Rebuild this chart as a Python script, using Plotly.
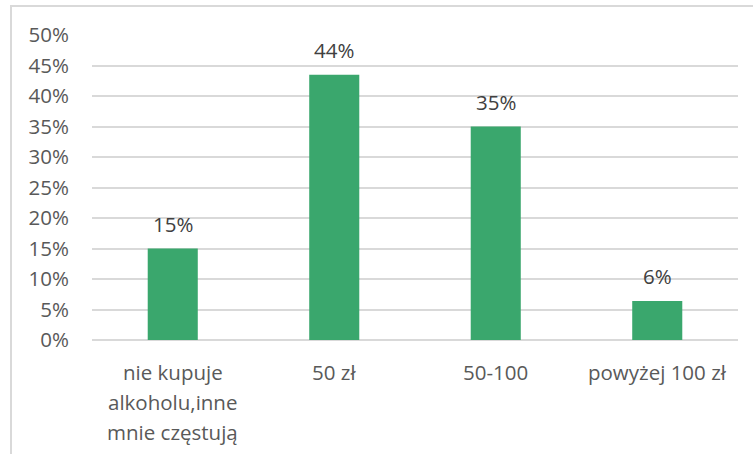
import plotly.graph_objects as go

categories = ["nie kupuje<br>alkoholu,inne<br>mnie częstują", "50 zł", "50-100", "powyżej 100 zł"]
values = [0.15, 0.435, 0.35, 0.064]
value_labels = ["15%", "44%", "35%", "6%"]
tick_vals = [0, 0.05, 0.10, 0.15, 0.20, 0.25, 0.30, 0.35, 0.40, 0.45, 0.50]
tick_text = ["0%", "5%", "10%", "15%", "20%", "25%", "30%", "35%", "40%", "45%", "50%"]

FONT = "Open Sans"
TXT = "#595959"
SIZE = 20.5

fig = go.Figure(go.Bar(
    x=categories, y=values,
    marker=dict(color="#3aa76d", line=dict(width=0)),
    hoverinfo="skip",
))

annotations = [
    dict(x=c, y=v, text=t, xref="x", yref="y", showarrow=False,
         yanchor="middle", yshift=25,
         font=dict(family=FONT, size=SIZE, color="#404040"))
    for c, v, t in zip(categories, values, value_labels)
]
# category labels, one annotation per line for Excel-like line spacing
for c in categories:
    for i, line in enumerate(c.split("<br>")):
        annotations.append(dict(x=c, y=0, text=line, xref="x", yref="y", showarrow=False,
                                yanchor="middle", yshift=-32 - 30 * i,
                                font=dict(family=FONT, size=SIZE, color=TXT)))

fig.update_layout(
    width=753, height=454,
    margin=dict(l=92, r=15, t=35, b=114),
    paper_bgcolor="white", plot_bgcolor="white",
    bargap=0.69,
    showlegend=False,
    font=dict(family=FONT, size=SIZE, color=TXT),
    annotations=annotations,
    shapes=[dict(type="rect", xref="paper", yref="paper",
                 x0=-0.1254, x1=1.05, y0=-0.45, y1=1.095,
                 line=dict(color="#d9d9d9", width=2), fillcolor="rgba(0,0,0,0)", layer="below")],
)
fig.update_xaxes(showgrid=False, showline=False, ticks="", showticklabels=False)
fig.update_yaxes(range=[0, 0.5], tickvals=tick_vals, ticktext=tick_text,
                 showgrid=True, gridcolor="#d9d9d9", gridwidth=1.5, zeroline=True,
                 zerolinecolor="#d9d9d9", zerolinewidth=1.5, showline=False, ticks="",
                 ticklabelstandoff=22,
                 tickfont=dict(family=FONT, size=SIZE, color=TXT))

fig.write_html("out.html", config={"displayModeBar": False},
               post_script="document.body.style.margin='0';")
